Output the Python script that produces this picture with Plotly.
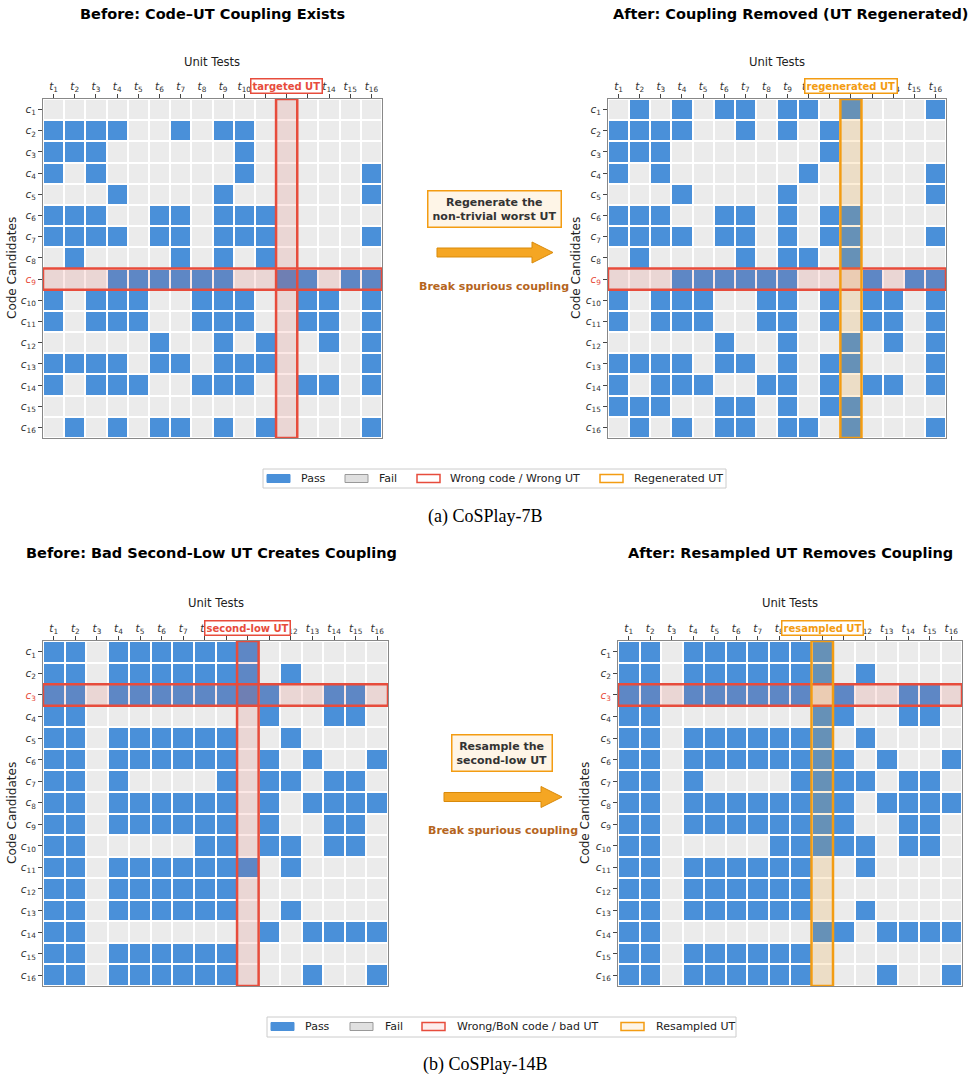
import plotly.graph_objects as go

W, H = 971, 1080
PASS = '#4A90D9'
FAIL = '#EBEBEB'
RED = '#E74C3C'
ORANGE = '#F39C12'
DARK = '#333333'
FONT = 'DejaVu Sans'

test_labels = [f"<i>t</i><sub>{i}</sub>" for i in range(1, 17)]
code_labels = [f"<i>c</i><sub>{i}</sub>" for i in range(1, 17)]

# ---- CoSPlay-7B ----
a7_before = [
    [0,0,0,0,0,0,0,0,0,0,0,0,0,0,0,0],
    [1,1,1,1,0,0,1,0,1,1,0,0,0,0,0,0],
    [1,1,1,0,0,0,0,0,0,1,0,0,0,0,0,0],
    [1,0,1,0,0,0,0,0,0,1,0,0,0,0,0,1],
    [0,0,0,1,0,0,0,0,1,0,0,0,0,0,0,1],
    [1,1,1,0,0,1,1,0,1,1,1,0,0,0,0,0],
    [1,1,1,1,0,1,1,0,1,1,1,0,0,0,0,1],
    [0,1,0,0,0,0,1,0,1,0,1,0,0,0,0,0],
    [0,0,0,1,1,1,1,1,1,0,0,1,1,0,1,1],
    [1,0,1,1,1,0,0,1,1,1,0,0,1,1,0,1],
    [1,0,1,1,1,0,0,1,1,1,0,0,1,1,0,1],
    [0,0,0,0,0,1,0,0,1,0,1,0,0,1,0,1],
    [1,1,1,1,0,1,1,0,1,1,1,0,0,0,0,1],
    [1,0,1,1,1,0,0,1,1,1,0,0,1,1,0,1],
    [0,0,0,0,0,0,0,0,0,0,0,0,0,0,0,0],
    [0,1,0,1,0,1,1,0,1,0,1,0,0,0,0,1],
]
a7_after = [
    [0,1,0,1,0,1,1,0,1,1,0,1,0,0,0,1],
    [1,1,1,1,0,0,1,0,1,0,1,0,0,0,0,0],
    [1,1,1,0,0,0,0,0,0,0,1,0,0,0,0,0],
    [1,0,1,0,0,0,0,0,0,1,0,0,0,0,0,1],
    [0,0,0,1,0,0,0,0,1,0,0,0,0,0,0,1],
    [1,1,1,0,0,1,1,0,1,0,1,1,0,0,0,0],
    [1,1,1,1,0,1,1,0,1,0,1,1,0,0,0,1],
    [0,1,0,0,0,0,1,0,1,1,0,1,0,0,0,0],
    [0,0,0,1,1,1,1,1,1,0,0,0,1,0,1,1],
    [1,0,1,1,1,0,0,1,1,0,1,0,1,1,0,1],
    [1,0,1,1,1,0,0,1,1,0,1,0,1,1,0,1],
    [0,0,0,0,0,1,0,0,1,0,0,1,0,1,0,1],
    [1,1,1,1,0,1,1,0,1,0,1,1,0,0,0,1],
    [1,0,1,1,1,0,0,1,1,0,1,0,1,1,0,1],
    [1,1,1,0,0,1,1,0,1,0,1,1,0,0,0,0],
    [0,1,0,1,0,1,1,0,1,1,0,1,0,0,0,1],
]
a7_wrong_code = 8   # c9
a7_target_ut = 11   # t12

# ---- CoSPlay-14B ----
b14_before = [
    [1,1,0,1,1,1,1,1,1,1,0,0,0,0,0,0],
    [1,1,0,1,1,1,1,1,1,1,0,1,0,0,0,0],
    [1,1,0,1,1,1,1,1,1,1,1,0,0,1,1,0],
    [1,1,0,0,0,0,0,0,0,0,1,0,0,1,1,0],
    [1,1,0,1,1,1,1,1,1,0,0,1,0,0,0,0],
    [1,1,0,1,1,1,1,1,1,0,1,0,1,0,0,1],
    [1,1,0,1,0,0,0,0,1,0,1,1,0,1,1,0],
    [1,1,0,1,1,1,1,1,1,0,1,0,1,1,1,1],
    [1,1,0,1,1,1,1,1,1,0,1,0,0,1,1,0],
    [1,1,0,0,0,0,0,1,1,0,1,1,0,1,1,0],
    [1,1,0,1,1,1,1,1,1,1,0,1,0,0,0,0],
    [1,1,0,1,1,1,1,1,1,0,0,0,0,0,0,0],
    [1,1,0,1,1,1,1,1,1,0,0,1,0,0,0,0],
    [1,1,0,0,0,0,0,0,0,0,1,0,1,1,1,1],
    [1,1,0,1,1,1,1,1,1,0,0,0,0,0,0,0],
    [1,1,0,1,1,1,1,1,1,0,0,0,1,0,0,1],
]
b14_after = [
    [1,1,0,1,1,1,1,1,1,1,0,0,0,0,0,0],
    [1,1,0,1,1,1,1,1,1,1,0,1,0,0,0,0],
    [1,1,0,1,1,1,1,1,1,0,1,0,0,1,1,0],
    [1,1,0,0,0,0,0,0,0,1,1,0,0,1,1,0],
    [1,1,0,1,1,1,1,1,1,1,0,1,0,0,0,0],
    [1,1,0,1,1,1,1,1,1,1,1,0,1,0,0,1],
    [1,1,0,1,0,0,0,0,1,1,1,1,0,1,1,0],
    [1,1,0,1,1,1,1,1,1,1,1,0,1,1,1,1],
    [1,1,0,1,1,1,1,1,1,1,1,0,0,1,1,0],
    [1,1,0,0,0,0,0,1,1,1,1,1,0,1,1,0],
    [1,1,0,1,1,1,1,1,1,0,0,1,0,0,0,0],
    [1,1,0,1,1,1,1,1,1,0,0,0,0,0,0,0],
    [1,1,0,1,1,1,1,1,1,0,0,1,0,0,0,0],
    [1,1,0,0,0,0,0,0,0,1,1,0,1,1,1,1],
    [1,1,0,1,1,1,1,1,1,0,0,0,0,0,0,0],
    [1,1,0,1,1,1,1,1,1,0,0,0,1,0,0,1],
]
b14_wrong_code = 2  # c3
b14_bad_ut = 9      # t10


def px(x):
    return x / W


def py(y):
    return 1 - y / H


def note(x, y, text, **kw):
    d = dict(xref='paper', yref='paper', x=px(x), y=py(y), text=text, showarrow=False,
             xanchor='center', yanchor='middle')
    d.update(kw)
    return d


fig = go.Figure()
shapes = []
annots = []

panels = [
    dict(z=a7_before, x=(43, 382), y=(99, 438), row=a7_wrong_code, col=a7_target_ut,
         ccol=RED, clabel='targeted UT', title='Before: Code–UT Coupling Exists', tx=212, ty=14,
         ut_x=212, ut_y=62, cc_x=12, cc_y=268, lab_y=86),
    dict(z=a7_after, x=(608, 946), y=(99, 438), row=a7_wrong_code, col=a7_target_ut,
         ccol=ORANGE, clabel='regenerated UT', title='After: Coupling Removed (UT Regenerated)', tx=791, ty=14,
         ut_x=777, ut_y=62, cc_x=576, cc_y=268, lab_y=86),
    dict(z=b14_before, x=(43, 388), y=(641, 986), row=b14_wrong_code, col=b14_bad_ut,
         ccol=RED, clabel='second-low UT', title='Before: Bad Second-Low UT Creates Coupling', tx=211, ty=553,
         ut_x=216, ut_y=603, cc_x=12, cc_y=813, lab_y=628),
    dict(z=b14_after, x=(618, 962), y=(641, 986), row=b14_wrong_code, col=b14_bad_ut,
         ccol=ORANGE, clabel='resampled UT', title='After: Resampled UT Removes Coupling', tx=790, ty=553,
         ut_x=790, ut_y=603, cc_x=585, cc_y=813, lab_y=628),
]

layout_axes = {}
for i, p in enumerate(panels, start=1):
    xa = 'x' if i == 1 else f'x{i}'
    ya = 'y' if i == 1 else f'y{i}'
    fig.add_trace(go.Heatmap(
        z=p['z'], x=list(range(16)), y=list(range(16)),
        colorscale=[[0, FAIL], [0.5, FAIL], [0.5, PASS], [1, PASS]],
        zmin=0, zmax=1, showscale=False, xgap=2, ygap=2,
        xaxis=xa, yaxis=ya, hoverinfo='skip'))
    ylabels = list(code_labels)
    ylabels[p['row']] = f"<span style='color:{RED}'>{code_labels[p['row']]}</span>"
    axcommon = dict(showgrid=False, zeroline=False, showline=True, mirror=True,
                    linecolor='#888888', linewidth=1, ticks='outside', ticklen=4,
                    tickcolor='#444444', tickwidth=1,
                    tickfont=dict(family=FONT, size=10.5, color=DARK))
    layout_axes['xaxis' if i == 1 else f'xaxis{i}'] = dict(
        domain=[px(p['x'][0]), px(p['x'][1])], anchor=ya, side='top',
        range=[-0.5, 15.5], tickmode='array', tickvals=list(range(16)),
        ticktext=test_labels, **axcommon)
    layout_axes['yaxis' if i == 1 else f'yaxis{i}'] = dict(
        domain=[py(p['y'][1]), py(p['y'][0])], anchor=xa,
        range=[15.5, -0.5], tickmode='array', tickvals=list(range(16)),
        ticktext=ylabels, **axcommon)
    ccol = p['ccol']
    cfill = 'rgba(231,76,60,0.13)' if ccol == RED else 'rgba(243,156,18,0.17)'
    shapes.append(dict(type='rect', xref=xa, yref=ya, x0=-0.5, x1=15.5,
                       y0=p['row'] - 0.5, y1=p['row'] + 0.5,
                       fillcolor='rgba(231,76,60,0.13)', line=dict(color=RED, width=2.5),
                       layer='above'))
    shapes.append(dict(type='rect', xref=xa, yref=ya, x0=p['col'] - 0.5, x1=p['col'] + 0.5,
                       y0=-0.5, y1=15.5, fillcolor=cfill, line=dict(color=ccol, width=2.5),
                       layer='above'))
    annots.append(dict(xref=xa, yref='paper', x=p['col'], y=py(p['lab_y']),
                       xanchor='center', yanchor='middle',
                       text=f"<b>{p['clabel']}</b>", showarrow=False,
                       font=dict(family=FONT, size=10, color=ccol),
                       bgcolor='white', bordercolor=ccol, borderwidth=1.5, borderpad=1))
    annots.append(note(p['tx'], p['ty'], f"<b>{p['title']}</b>",
                       font=dict(family=FONT, size=14.5, color='black')))
    annots.append(note(p['ut_x'], p['ut_y'], 'Unit Tests',
                       font=dict(family=FONT, size=11.6, color='#222')))
    annots.append(note(p['cc_x'], p['cc_y'], 'Code Candidates', textangle=-90,
                       font=dict(family=FONT, size=12, color='#222')))

mids = [
    dict(text='<b>Regenerate the<br>non-trivial worst UT</b>', bx=494, by=209,
         ax0=437, ax1=553, ay=252.5, brk_x=494, brk_y=286),
    dict(text='<b>Resample the<br>second-low UT</b>', bx=502, by=753,
         ax0=444, ax1=562, ay=797, brk_x=503, brk_y=830),
]
for m in mids:
    annots.append(note(m['bx'], m['by'], m['text'], align='center',
                       font=dict(family=FONT, size=11, color=DARK),
                       bgcolor='#FEF5E7', bordercolor=ORANGE, borderwidth=1.5, borderpad=4))
    annots.append(note(m['brk_x'], m['brk_y'], '<b>Break spurious coupling</b>',
                       font=dict(family=FONT, size=11, color='#B5651D')))
    hx = m['ax1'] - 21
    a = m['ay']
    pts = [(m['ax0'], a - 4.5), (hx, a - 4.5), (hx, a - 10.5), (m['ax1'], a),
           (hx, a + 10.5), (hx, a + 4.5), (m['ax0'], a + 4.5)]
    path = 'M ' + ' L '.join(f'{px(x):.5f},{py(y):.5f}' for x, y in pts) + ' Z'
    shapes.append(dict(type='path', xref='paper', yref='paper', path=path,
                       fillcolor='#F5A623', line=dict(color='#D98A0B', width=1), layer='above'))

legends = [
    dict(box=(263, 469, 726, 488), yc=478.5, items=[
        (267, PASS, PASS, 299, 'Pass'),
        (345, '#E0E0E0', '#999999', 377, 'Fail'),
        (417, 'white', RED, 448, 'Wrong code / Wrong UT'),
        (600, 'white', ORANGE, 632, 'Regenerated UT')]),
    dict(box=(267, 1017, 736, 1037), yc=1026.5, items=[
        (271, PASS, PASS, 303, 'Pass'),
        (350, '#E0E0E0', '#999999', 383, 'Fail'),
        (422, '#FDEDEC', RED, 455, 'Wrong/BoN code / bad UT'),
        (621, '#FEF5E7', ORANGE, 654, 'Resampled UT')]),
]
for lg in legends:
    x0, y0, x1, y1 = lg['box']
    shapes.append(dict(type='rect', xref='paper', yref='paper', x0=px(x0), x1=px(x1),
                       y0=py(y1), y1=py(y0), fillcolor='white',
                       line=dict(color='#CCCCCC', width=1)))
    for (sx, fill, line, tx, label) in lg['items']:
        shapes.append(dict(type='rect', xref='paper', yref='paper', x0=px(sx), x1=px(sx + 23),
                           y0=py(lg['yc'] + 4), y1=py(lg['yc'] - 4), fillcolor=fill,
                           line=dict(color=line, width=1.5 if line in (RED, ORANGE) else 1)))
        annots.append(note(tx, lg['yc'], label, xanchor='left',
                           font=dict(family=FONT, size=11, color='#222')))

for text, yc in [('(a) CoSPlay-7B', 516), ('(b) CoSPlay-14B', 1064)]:
    annots.append(note(485, yc, text, font=dict(family='Liberation Serif', size=18, color='black')))

fig.update_layout(width=W, height=H, margin=dict(l=0, r=0, t=0, b=0),
                  paper_bgcolor='white', plot_bgcolor='white', showlegend=False,
                  shapes=shapes, annotations=annots, **layout_axes)
fig.write_html('out.html')
